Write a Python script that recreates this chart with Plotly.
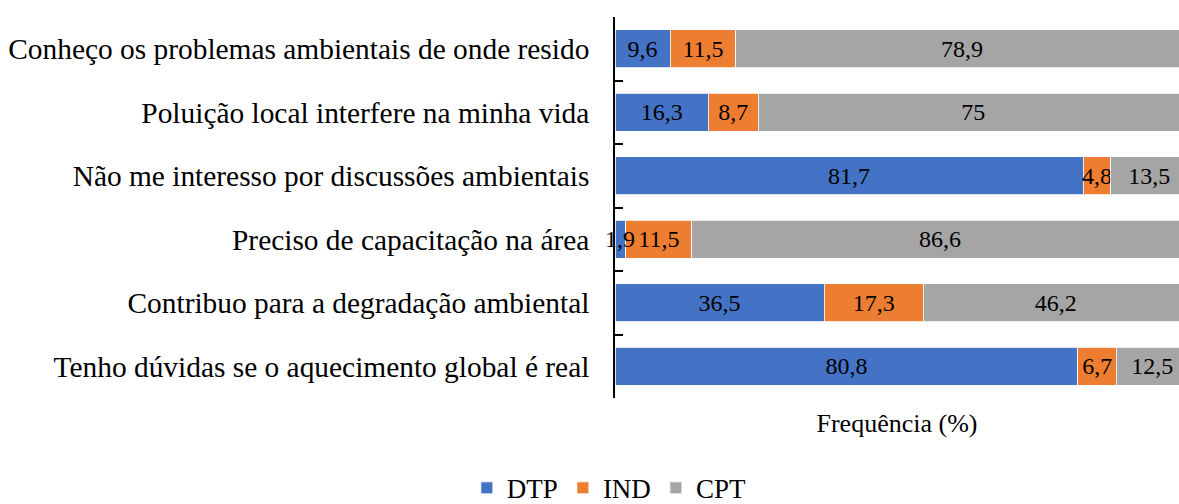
import plotly.graph_objects as go

categories = [
    "Conheço os problemas ambientais de onde resido",
    "Poluição local interfere na minha vida",
    "Não me interesso por discussões ambientais",
    "Preciso de capacitação na área",
    "Contribuo para a degradação ambiental",
    "Tenho dúvidas se o aquecimento global é real",
]
dtp = [9.6, 16.3, 81.7, 1.9, 36.5, 80.8]
ind = [11.5, 8.7, 4.8, 11.5, 17.3, 6.7]
cpt = [78.9, 75.0, 13.5, 86.6, 46.2, 12.5]
series = [("DTP", dtp, "#4472C4"), ("IND", ind, "#ED7D31"), ("CPT", cpt, "#A5A5A5")]


def fmt(v):
    s = f"{v:.1f}"
    if s.endswith(".0"):
        s = s[:-2]
    return s.replace(".", ",")


FONT = "Liberation Serif, Times New Roman, serif"
LABEL_SIZE = 24
fig = go.Figure()
for name, vals, color in series:
    # segments too narrow to hold their label get it as an overflowing annotation
    positions = ["none" if v < 3 else "inside" for v in vals]
    fig.add_trace(go.Bar(
        y=categories, x=vals, name=name, orientation="h",
        marker=dict(color=color, line=dict(color="white", width=0.8)),
        text=[fmt(v) for v in vals], textposition=positions,
        insidetextanchor="middle", textangle=0, constraintext="none",
        textfont=dict(family=FONT, size=LABEL_SIZE, color="black"),
        hoverinfo="skip",
    ))

names = [s[0] for s in series]
for name, vals, color in series:
    idx = names.index(name)
    for i, v in enumerate(vals):
        if v < 3:
            start = sum(series[k][1][i] for k in range(idx))
            fig.add_annotation(x=start + v / 2, y=categories[i], text=fmt(v),
                               showarrow=False, xanchor="center", yanchor="middle",
                               font=dict(family=FONT, size=LABEL_SIZE, color="black"))

fig.update_layout(
    barmode="stack", bargap=0.4,
    width=1179, height=504,
    margin=dict(l=615, r=0, t=17, b=106, autoexpand=False),
    paper_bgcolor="white", plot_bgcolor="white",
    font=dict(family=FONT, color="black"),
    showlegend=True,
    legend=dict(orientation="h", xref="paper", yref="paper",
                x=-0.01, y=-0.237, xanchor="center", yanchor="middle",
                font=dict(family=FONT, size=27, color="black"),
                traceorder="normal"),
)
fig.update_xaxes(range=[0, 98.43], showticklabels=False, showgrid=False,
                 zeroline=False, showline=False, automargin=False,
                 title=dict(text="Frequência (%)", font=dict(family=FONT, size=26), standoff=15))
fig.update_yaxes(autorange="reversed", showline=True, linecolor="black", linewidth=1.5,
                 ticks="inside", ticklen=8, tickwidth=1.5, tickcolor="black",
                 tickson="boundaries", ticklabelstandoff=18, showgrid=False, automargin=False,
                 tickfont=dict(family=FONT, size=29.4, color="black"))

fig.write_html("out.html", config={"displayModeBar": False},
               post_script="document.body.style.margin='0';document.body.style.overflow='hidden';")
